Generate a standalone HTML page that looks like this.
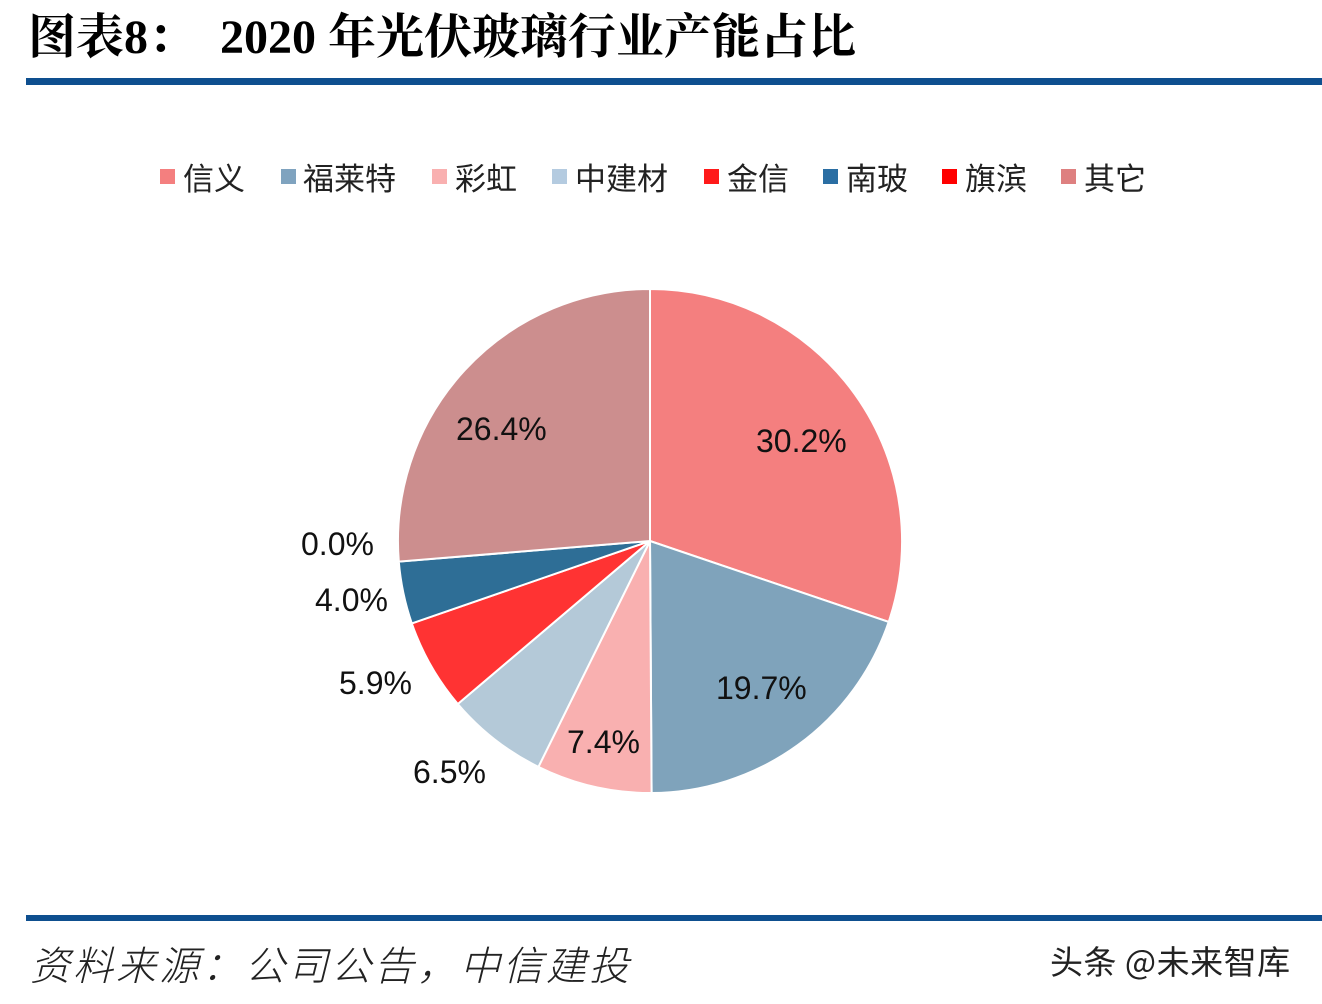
<!DOCTYPE html>
<html><head><meta charset="utf-8"><style>
body{margin:0;width:1322px;height:1004px;background:#fff;overflow:hidden;position:relative;font-family:"Liberation Sans","Noto Sans CJK SC",sans-serif}
.t{position:absolute;white-space:nowrap}
</style></head><body>
<div class="t" style="left:28px;top:8px;font-family:'Liberation Serif','Noto Serif CJK SC',serif;font-weight:bold;font-size:48px;line-height:60px;color:#000">图表8：&nbsp;&nbsp;2020 年光伏玻璃行业产能占比</div>
<div style="position:absolute;left:26px;top:78px;width:1296px;height:7px;background:#0e4f8f"></div>
<div style="position:absolute;left:26px;top:915px;width:1296px;height:6px;background:#0e4f8f"></div>
<div class="t" style="left:30px;top:936px;font-size:40px;letter-spacing:3px;font-style:italic;color:#222;line-height:54px;font-family:'Noto Sans CJK SC',sans-serif;font-weight:300">资料来源：公司公告，中信建投</div>
<div class="t" style="left:1050px;top:936px;font-size:33px;letter-spacing:0.5px;color:#222;line-height:48px;font-family:'Noto Sans CJK SC',sans-serif">头条 @未来智库</div>
<svg width="1322" height="1004" style="position:absolute;left:0;top:0" font-family="Liberation Sans, Noto Sans CJK SC, sans-serif">
<g font-size="31" fill="#222">
<rect x="160" y="169" width="15" height="15" fill="#f47f7f"/><text x="183" y="190">信义</text>
<rect x="281" y="169" width="15" height="15" fill="#7fa3bf"/><text x="303" y="190">福莱特</text>
<rect x="432" y="169" width="15" height="15" fill="#f9b0b0"/><text x="455" y="190">彩虹</text>
<rect x="552" y="169" width="15" height="15" fill="#b4cbe0"/><text x="575" y="190">中建材</text>
<rect x="704" y="169" width="15" height="15" fill="#ff1a1a"/><text x="727" y="190">金信</text>
<rect x="823" y="169" width="15" height="15" fill="#2a6ea3"/><text x="846" y="190">南玻</text>
<rect x="942" y="169" width="15" height="15" fill="#ff0000"/><text x="965" y="190">旗滨</text>
<rect x="1061" y="169" width="15" height="15" fill="#de8080"/><text x="1084" y="190">其它</text>
</g>
<g stroke="#fff" stroke-width="2">
<path d="M650,541 L650,289 A252,252 0 0 1 888.7,621.9 Z" fill="#f47f7f"/>
<path d="M650,541 L888.7,621.9 A252,252 0 0 1 651.6,793 Z" fill="#7fa3bb"/>
<path d="M650,541 L651.6,793 A252,252 0 0 1 538.4,766.9 Z" fill="#f9b0b0"/>
<path d="M650,541 L538.4,766.9 A252,252 0 0 1 457.8,704 Z" fill="#b4c9d8"/>
<path d="M650,541 L457.8,704 A252,252 0 0 1 411.8,623.4 Z" fill="#ff3333"/>
<path d="M650,541 L411.8,623.4 A252,252 0 0 1 398.8,561.6 Z" fill="#2e6e96"/>
<path d="M650,541 L398.8,561.6 A252,252 0 0 1 650,289 Z" fill="#cc8e8e"/>
</g>
<g font-size="32" fill="#111">
<text x="756" y="452">30.2%</text>
<text x="716" y="699">19.7%</text>
<text x="567" y="753">7.4%</text>
<text x="413" y="783">6.5%</text>
<text x="339" y="694">5.9%</text>
<text x="315" y="611">4.0%</text>
<text x="301" y="555">0.0%</text>
<text x="456" y="440">26.4%</text>
</g>
</svg>
</body></html>
